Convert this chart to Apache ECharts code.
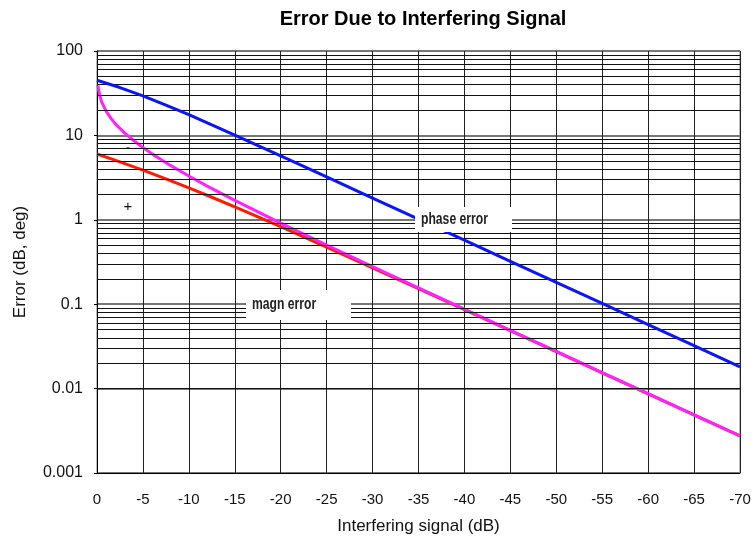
<!DOCTYPE html>
<html>
<head>
<meta charset="utf-8">
<title>Error Due to Interfering Signal</title>
<script src="https://cdn.jsdelivr.net/npm/echarts@6/dist/echarts.min.js"></script>
<style>
	html,body{margin:0;padding:0;background:#fff;}
	#errChart{width:755px;height:548px;}
</style>
</head>
<body>
<div id="errChart"></div>
<script>
// 干扰电平 (dB) 与误差
var phaseDb  = [0, -2.5, -5, -7.5, -10, -12.5, -15, -20, -25, -30, -35, -40, -45, -50, -55, -60, -65, -70];
var phaseErr = [45, 36.9, 29.4, 22.9, 17.6, 13.3, 10.1, 5.71, 3.22, 1.81, 1.02, 0.573, 0.322, 0.181, 0.102, 0.0573, 0.0322, 0.0181];
var magnDb   = [0, -2.5, -5, -7.5, -10, -12.5, -15, -20, -25, -30, -35, -40, -45, -50, -55, -60, -65, -70];
var magnLow  = [6.02, 4.86, 3.88, 3.06, 2.39, 1.85, 1.42, 0.828, 0.475, 0.270, 0.153, 0.0864, 0.0487, 0.0274, 0.0154, 0.00868, 0.00488, 0.00275];
var highDb   = [-0.1, -0.25, -0.5, -1, -1.5, -2, -3, -4, -5, -6, -7, -8, -10, -12, -15, -20, -25, -30, -35, -40, -45, -50, -55, -60, -65, -70];
var magnHigh = [38.9, 30.9, 25.0, 19.3, 16.0, 13.7, 10.7, 8.66, 7.18, 6.04, 5.14, 4.41, 3.30, 2.51, 1.70, 0.915, 0.503, 0.279, 0.156, 0.0873, 0.0490, 0.0276, 0.0155, 0.00870, 0.00489, 0.00275];
// 对数坐标十进位
var decades  = [0.001, 0.01, 0.1, 1, 10, 100];

var errChart = {
	chart:null,
	init:function(){
		var self=this;
		self.chart = echarts.init(document.getElementById("errChart"));
		self.chart.setOption(self.buildOption(), true);
	},
	pairs:function(xs, ys){
		var out=[];
		for (var i = 0; i < xs.length; i++) out.push([xs[i], ys[i]]);
		return out;
	},
	/**
	 * 对数网格 2..9 细线
	 */
	minorLines:function(){
		var out=[];
		for (var d = 0; d < decades.length - 1; d++) {
			for (var m = 2; m <= 9; m++) {
				out.push({yAxis: +(decades[d]*m).toPrecision(3)});
			}
		}
		return out;
	},
	buildOption:function(){
		var self=this;
		var font = "Liberation Sans";
		var lineOpt = function(name, color, data, z){
			return {
				name: name,
				type: 'line',
				data: data,
				showSymbol: false,
				symbol: 'none',
				smooth: false,
				z: z,
				lineStyle: {color: color, width: 3},
				itemStyle: {color: color},
				silent: true
			};
		};
		// 白底标注框 (窄体字, 用 scaleX 压缩)
		var boxText = function(x, y, w, h, txt){
			return [{
				type: 'rect',
				z: 100,
				silent: true,
				shape: {x: x, y: y, width: w, height: h},
				style: {fill: '#fff', stroke: null}
			},{
				type: 'text',
				z: 101,
				silent: true,
				x: x + 6,
				y: y + h/2,
				scaleX: 0.76,
				style: {
					text: txt,
					fill: '#222',
					font: 'bold 16px "Liberation Sans"',
					verticalAlign: 'middle'
				}
			}];
		};
		return {
			animation: false,
			backgroundColor: '#fff',
			title: {
				text: 'Error Due to Interfering Signal',
				left: 418,
				top: 4,
				textAlign: 'center',
				textStyle: {fontFamily: font, fontSize: 20, fontWeight: 'bold', color: '#000'}
			},
			grid: {left: 97, right: 15, top: 51, bottom: 75, show: true, borderColor: '#777', borderWidth: 1},
			xAxis: {
				type: 'value',
				min: -70,
				max: 0,
				interval: 5,
				inverse: true,
				name: 'Interfering signal (dB)',
				nameLocation: 'middle',
				nameGap: 45,
				nameTextStyle: {fontFamily: font, fontSize: 17, color: '#111'},
				axisLine: {lineStyle: {color: '#000', width: 1}},
				axisTick: {show: false},
				axisLabel: {margin: 19, fontFamily: font, fontSize: 15, color: '#111'},
				splitLine: {show: true, lineStyle: {color: '#222', width: 1}}
			},
			yAxis: {
				type: 'log',
				logBase: 10,
				min: 0.001,
				max: 100,
				name: 'Error (dB, deg)',
				nameLocation: 'middle',
				nameGap: 68,
				nameTextStyle: {fontFamily: font, fontSize: 17, color: '#111'},
				axisLine: {lineStyle: {color: '#000', width: 1}},
				axisTick: {show: true, length: 3, lineStyle: {color: '#000'}},
				axisLabel: {
					margin: 14,
					fontFamily: font,
					fontSize: 16,
					color: '#111',
					formatter: function(v){ return String(parseFloat((+v).toPrecision(6))); }
				},
				splitLine: {show: true, lineStyle: {color: '#777', width: 2}}
			},
			graphic: [].concat(
				boxText(415, 207, 97, 25, 'phase error'),
				boxText(246, 290, 105, 30, 'magn error'),
				[{type: 'text', x: 128, y: 207, z: 100, silent: true, style: {text: '+', fill: '#111', font: '15px "Liberation Sans"', align: 'center', verticalAlign: 'middle'}},
				 {type: 'text', x: 128, y: 148, z: 100, silent: true, style: {text: '-', fill: '#555', font: '12px "Liberation Sans"', align: 'center', verticalAlign: 'middle'}}]
			),
			series: [{
				// 网格细线
				type: 'line',
				data: [],
				z: 1,
				silent: true,
				markLine: {
					silent: true,
					symbol: ['none', 'none'],
					label: {show: false},
					animation: false,
					lineStyle: {color: '#111', width: 1, type: 'solid'},
					data: self.minorLines()
				}
			},
				lineOpt('magn error low', '#ff1a00', self.pairs(magnDb, magnLow), 3),
				lineOpt('magn error high', '#ff22ff', self.pairs(highDb, magnHigh), 4),
				lineOpt('phase error', '#0a14ff', self.pairs(phaseDb, phaseErr), 5)
			]
		};
	}
};

errChart.init();
</script>
</body>
</html>
